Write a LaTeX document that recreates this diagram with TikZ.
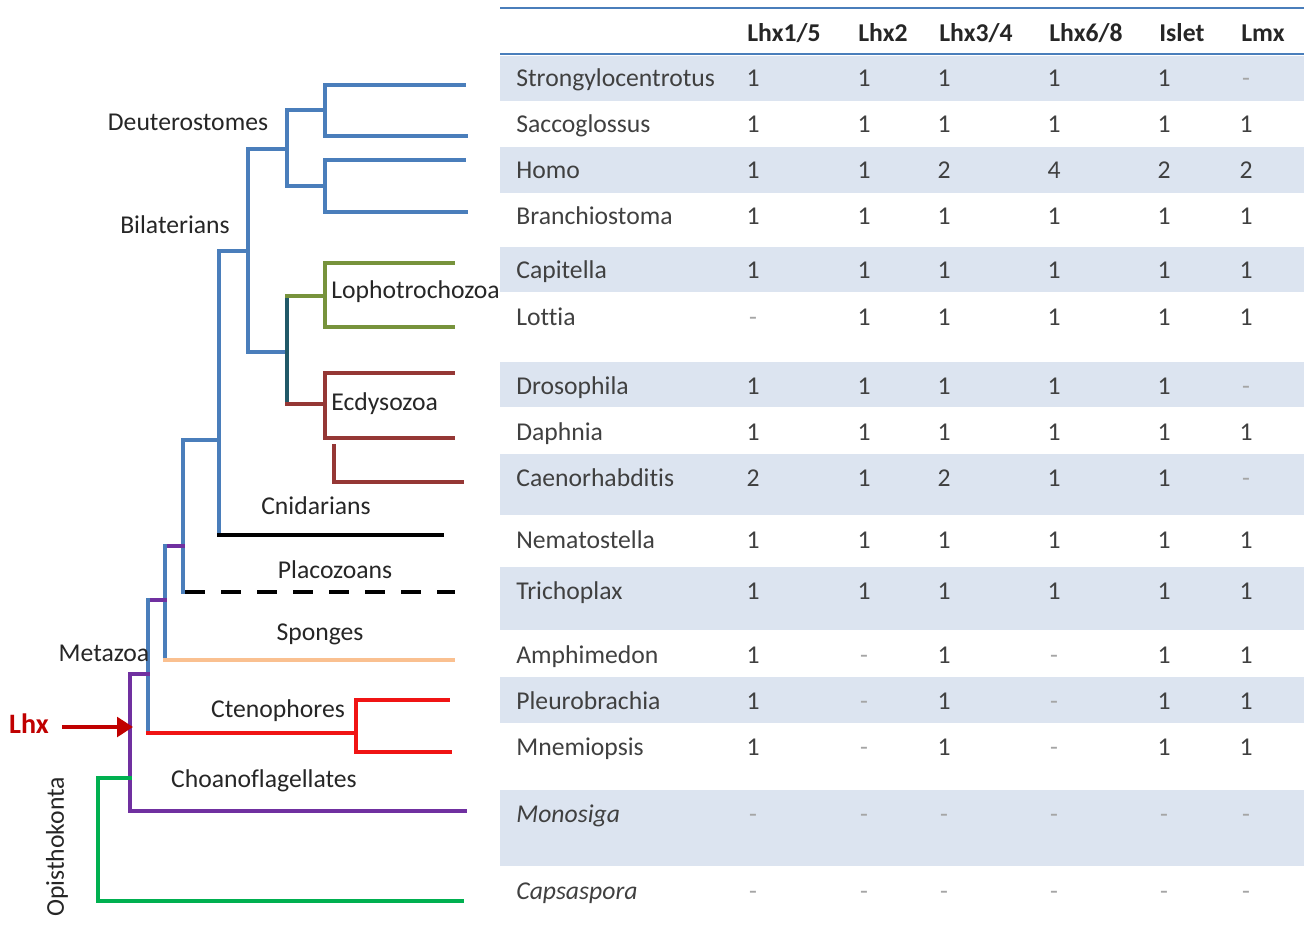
\documentclass[tikz,border=0pt]{standalone}
\usepackage{fontspec}
\setmainfont{Carlito}[Ligatures=NoCommon]
\usepackage{tikz}
\usetikzlibrary{arrows.meta}

\definecolor{blu}{RGB}{74,126,187}
\definecolor{dkteal}{RGB}{33,89,104}
\definecolor{olv}{RGB}{119,147,60}
\definecolor{brn}{RGB}{149,55,53}
\definecolor{orng}{RGB}{250,192,144}
\definecolor{rd}{RGB}{240,20,20}
\definecolor{purp}{RGB}{112,48,160}
\definecolor{grn}{RGB}{0,176,80}
\definecolor{lhxred}{RGB}{192,0,0}
\definecolor{rowblue}{RGB}{220,228,240}
\definecolor{txt}{RGB}{64,64,64}
\definecolor{dashgray}{RGB}{165,165,165}
\newcommand{\nd}{\textcolor{dashgray}{-}}

\begin{document}
\begin{tikzpicture}[x=0.02cm,y=-0.02cm,
  font=\fontsize{14.6}{17}\selectfont,
  br/.style={line width=2.3pt,line cap=rect},
  lbl/.style={inner sep=0pt,text=black!85},
  cell/.style={inner sep=0pt,text=txt,text height=7.2pt,text depth=2.2pt,yshift=-1.7pt},
  hdr/.style={inner sep=0pt,anchor=west,font=\fontsize{14.6}{17}\selectfont\bfseries,text=black!85}]
\useasboundingbox (0,0) rectangle (1304,939);
% table background bands
\foreach \ya/\yb in {56/101,147/193,247/292,362/407,454/515,567/630,677/723,790/866}
  \fill[rowblue] (500,\ya) rectangle (1304,\yb);
\draw[blu,line width=1.3pt] (500,8) -- (1304,8);
\draw[blu,line width=1.3pt] (500,54) -- (1304,54);
% header
\node[hdr] (h1) at (747,33) {Lhx1/5};
\node[hdr] (h2) at (858,33) {Lhx2};
\node[hdr] (h3) at (939,33) {Lhx3/4};
\node[hdr] (h4) at (1049,33) {Lhx6/8};
\node[hdr] (h5) at (1159,33) {Islet};
\node[hdr] (h6) at (1241,33) {Lmx};
% rows
\foreach \y/\nm/\ca/\cb/\cc/\cd/\ce/\cf [count=\i] in {
  79/Strongylocentrotus/1/1/1/1/1/\nd,
  125/Saccoglossus/1/1/1/1/1/1,
  171/Homo/1/1/2/4/2/2,
  217/Branchiostoma/1/1/1/1/1/1,
  271/Capitella/1/1/1/1/1/1,
  318/Lottia/\nd/1/1/1/1/1,
  387/Drosophila/1/1/1/1/1/\nd,
  433/Daphnia/1/1/1/1/1/1,
  479/Caenorhabditis/2/1/2/1/1/\nd,
  541/Nematostella/1/1/1/1/1/1,
  592/Trichoplax/1/1/1/1/1/1,
  656/Amphimedon/1/\nd/1/\nd/1/1,
  702/Pleurobrachia/1/\nd/1/\nd/1/1,
  748/Mnemiopsis/1/\nd/1/\nd/1/1,
  815/\textit{Monosiga}/\nd/\nd/\nd/\nd/\nd/\nd,
  892/\textit{Capsaspora}/\nd/\nd/\nd/\nd/\nd/\nd} {
  \node[cell,anchor=west] (n\i) at (516,\y) {\nm};
  \foreach \xx/\v [count=\j] in {753/\ca,864/\cb,944/\cc,1054/\cd,1164/\ce,1246/\cf}
    \node[cell] (v\i-\j) at (\xx,\y) {\v};
}
% deuterostomes
\draw[br,blu] (464,85) -- (325,85) -- (325,136) -- (466,136);
\draw[br,blu] (464,160) -- (325,160) -- (325,212) -- (466,212);
\draw[br,blu] (325,110) -- (287,110) -- (287,186) -- (325,186);
\draw[br,blu] (287,149) -- (248,149) -- (248,352) -- (287,352);
\draw[br,blu] (248,251) -- (219,251) -- (219,535);
% protostomes
\draw[br,dkteal] (287,296) -- (287,404);
\draw[br,olv] (287,296) -- (325,296);
\draw[br,olv] (453,263) -- (325,263) -- (325,327) -- (453,327);
\draw[br,brn] (287,404) -- (325,404);
\draw[br,brn] (453,373) -- (325,373) -- (325,438) -- (453,438);
\draw[br,brn] (334,446) -- (334,482) -- (462,482);
% cnidarians, placozoans
\draw[br,black] (219,535) -- (442,535);
\draw[br,blu] (219,440) -- (183,440) -- (183,592);
\draw[black,line width=2.8pt,dash pattern=on 11.4pt off 9.1pt] (185,592) -- (455,592);
% sponges
\draw[br,purp] (165,546) -- (183,546);
\draw[br,blu] (165,546) -- (165,660);
\draw[br,orng] (165,660) -- (453,660);
% ctenophores
\draw[br,purp] (148,600) -- (165,600);
\draw[br,blu] (148,600) -- (148,733);
\draw[br,rd] (148,733) -- (356,733);
\draw[br,rd] (448,700) -- (356,700) -- (356,752) -- (450,752);
% choanoflagellates, opisthokonta
\draw[br,purp] (148,674) -- (130,674) -- (130,811) -- (465,811);
\draw[br,grn] (130,778) -- (98,778) -- (98,901) -- (462,901);
% labels
\node[lbl] (deut) at (188,122) {Deuterostomes};
\node[lbl] (bilat) at (175,225) {Bilaterians};
\node[lbl,anchor=west] (lopho) at (331,292) {Lophotrochozoa};
\node[lbl,anchor=west] (ecdy) at (331,404) {Ecdysozoa};
\node[lbl] (cnid) at (316,506) {Cnidarians};
\node[lbl] (placo) at (335,570) {Placozoans};
\node[lbl] (spong) at (320,634) {Sponges};
\node[lbl] (meta) at (104,653) {Metazoa};
\node[lbl] (cteno) at (278,711) {Ctenophores};
\node[lbl] (choano) at (264,781) {Choanoflagellates};
\node[lbl,rotate=90] (opis) at (57,847) {Opisthokonta};
% Lhx arrow
\node[inner sep=0pt,text=lhxred,font=\fontsize{16}{18}\selectfont\bfseries] (lhx) at (29,724) {Lhx};
\coordinate (lhxtip) at (133,727);
\draw[lhxred,line width=2.8pt,-{Triangle[length=9pt,width=11pt]}] (62,727) -- (lhxtip);
\end{tikzpicture}
\end{document}
